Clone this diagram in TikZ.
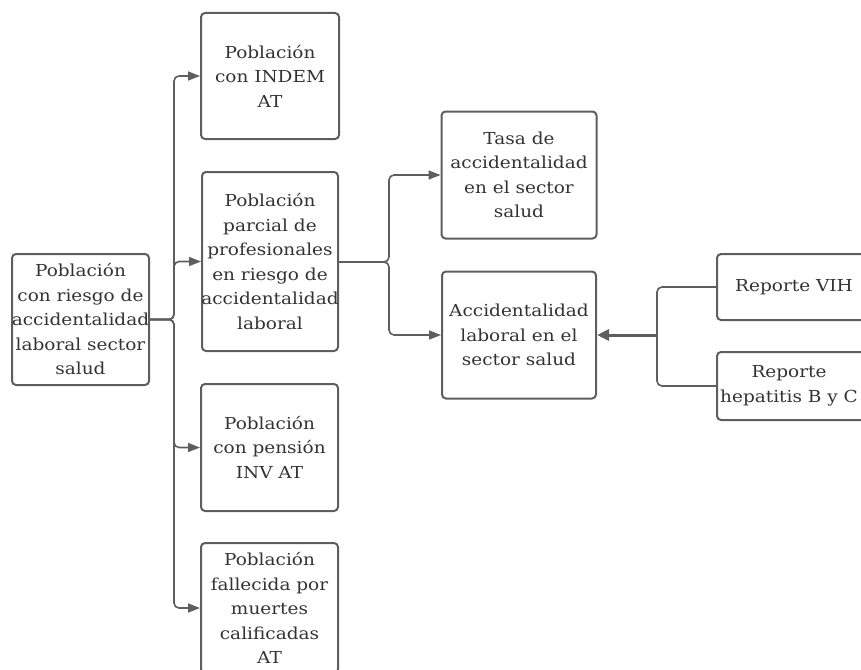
\documentclass[tikz,border=0pt]{standalone}
\usepackage{fontspec}
\setmainfont[FakeStretch=1.12]{DejaVu Serif}
\usetikzlibrary{arrows.meta}
\definecolor{linegray}{HTML}{5E5E5E}
\definecolor{textgray}{HTML}{333333}
\tikzset{
  box/.style={draw=linegray, line width=2pt, rounded corners=4pt, align=center,
    inner ysep=0pt, inner xsep=-4pt, text=textgray, font=\fontsize{16.5}{24.5}\selectfont},
  conn/.style={draw=linegray, line width=1.6pt, rounded corners=5pt},
  arr/.style={conn, -{Triangle[length=12pt,width=9pt]}},
  bigarr/.style={draw=linegray, line width=3pt, -{Triangle[length=12pt,width=11pt]}}
}
\begin{document}
\begin{tikzpicture}[x=1pt,y=-1pt]
\useasboundingbox (0,0) rectangle (861,669);
\begin{scope}
\clip (0,0) rectangle (861,669);
\node[box, minimum width=137, minimum height=131] (src) at (80.5,319.5)
  {Población\\con riesgo de\\accidentalidad\\laboral sector\\salud};
\node[box, minimum width=138, minimum height=126] (indem) at (270,76)
  {Población\\con INDEM\\AT};
\node[box, minimum width=136, minimum height=179] (parcial) at (270,261.5)
  {Población\\parcial de\\profesionales\\en riesgo de\\accidentalidad\\laboral};
\node[box, minimum width=137, minimum height=127] (pension) at (269.5,447.5)
  {Población\\con pensión\\INV AT};
\node[box, minimum width=137, minimum height=130] (fallecida) at (269.5,608)
  {Población\\fallecida por\\muertes\\calificadas\\AT};
\node[box, minimum width=155, minimum height=127] (tasa) at (519,175)
  {Tasa de\\accidentalidad\\en el sector\\salud};
\node[box, minimum width=154, minimum height=127] (accid) at (519,335)
  {Accidentalidad\\laboral en el\\sector salud};
\node[box, minimum width=154, minimum height=66] (vih) at (794,287)
  {Reporte VIH};
\node[box, minimum width=154, minimum height=68] (hep) at (794,386)
  {Reporte\kern10pt\\hepatitis B y C\kern10pt};
\end{scope}
\coordinate (b1) at (174,319.5);
\coordinate (b2) at (389,262);
\coordinate (b3) at (657,335);
\draw[arr] (src.east) -- (b1) |- (indem.west);
\draw[arr] (src.east) -- (b1) |- (parcial.west);
\draw[arr] (src.east) -- (b1) |- (pension.west);
\draw[arr] (src.east) -- (b1) |- (fallecida.west);
\draw[arr] (parcial.east |- b2) -- (b2) |- (tasa.west);
\draw[arr] (parcial.east |- b2) -- (b2) |- (accid.west);
\draw[conn] (vih.west) -| (b3);
\draw[conn] (hep.west) -| (b3);
\draw[bigarr] (b3) -- (accid.east);
\end{tikzpicture}
\end{document}
